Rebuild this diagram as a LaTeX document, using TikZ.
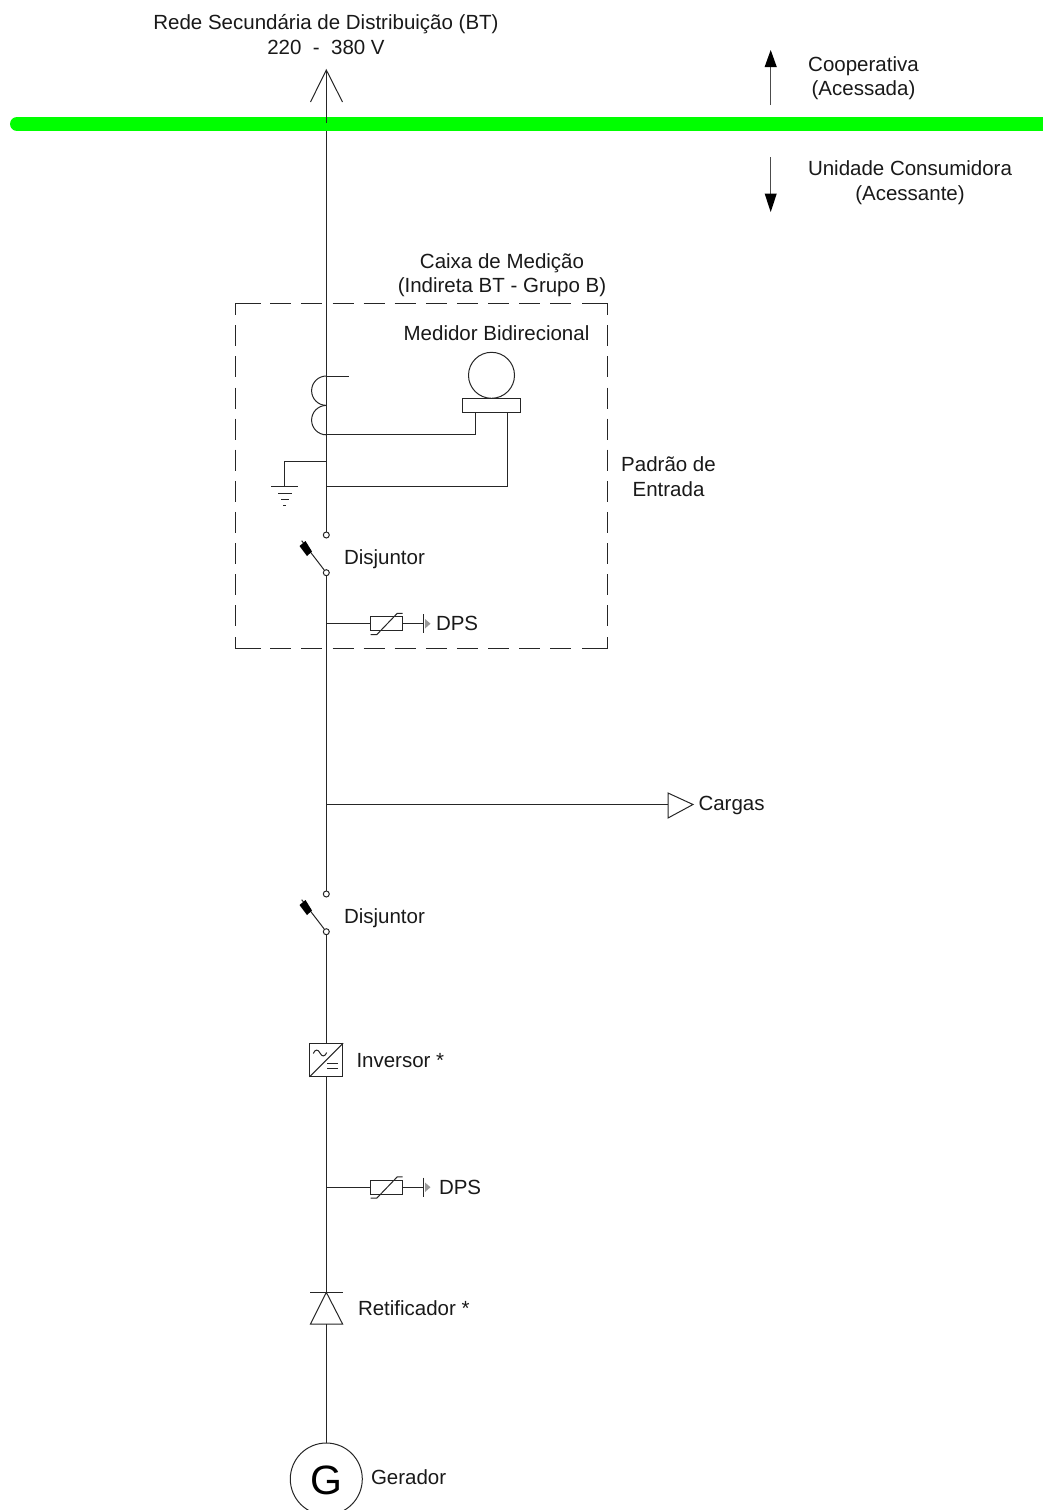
\documentclass[tikz,border=0pt]{standalone}
\usepackage{fontspec}
\setmainfont{Liberation Sans}
\tikzset{
  wire/.style={line width=1pt,draw=black!85},
  dashedge/.style={line width=1pt,draw=black!85,dash pattern=on 21pt off 10.1pt},
  lbl/.style={inner sep=0pt,outer sep=0pt,font=\fontsize{20.5}{24.6}\selectfont,text=black!90,align=center},
  term/.style={circle,draw=black!85,fill=white,line width=1pt,inner sep=0pt,minimum size=6pt},
}
\newcommand{\breakerat}[3]{%
  \begin{scope}[shift={(0,#1)}]
    \node[term] (#2) at (326.3,535) {};
    \node[term] (#3) at (326.3,572.7) {};
    \draw[wire] (#3) -- (301.7,540.7);
    \fill[black] (299.5,546) -- (305.5,541) -- (312,551.5) -- (307,556) -- cycle;
  \end{scope}}
\newcommand{\dpsat}[2]{%
  \begin{scope}[shift={(#1,#2)}]
    \draw[wire] (326.3,623.7) -- (370.7,623.7);
    \draw[wire] (370.7,616.7) rectangle (402.7,630.7);
    \draw[wire] (370.7,634.7) -- (376.7,634.7) -- (397.3,613.3) -- (402.7,613.3);
    \draw[wire] (402.7,623.7) -- (423.3,623.7);
    \fill[black!40] (425,619) -- (430.5,623.7) -- (425,628.5) -- cycle;
    \draw[wire] (423.3,614) -- (423.3,633);
  \end{scope}}
\begin{document}
\begin{tikzpicture}[x=1pt,y=-1pt]
\useasboundingbox (0,0) rectangle (1043,1510);
\coordinate (top) at (326.3,70);
\coordinate (busmid) at (326.3,123);
\coordinate (busL) at (17,124);
\breakerat{0}{ta}{tb}
\breakerat{359}{tc}{td}
\coordinate (barA) at (326.3,1292.3);
\node[circle,draw=black!85,line width=1pt,inner sep=0pt,minimum size=72pt] (gen) at (326.3,1479) {};
\node[font=\fontsize{41}{41}\selectfont,inner sep=0pt] (gl) at (326.3,1480.5) {G};
\draw[wire] (busmid) -- (ta);
\draw[line width=14pt,draw=green,line cap=round] (busL) -- (1060,124);
\draw[wire] (top) -- (busmid);
\draw[wire] (310.5,102) -- (top) -- (342.5,102);
% coil
\draw[wire] (326.3,376) arc[start angle=270,end angle=90,radius=14.7];
\draw[wire] (326.3,405.4) arc[start angle=270,end angle=90,radius=14.7];
\draw[wire] (326.3,376) -- (349,376);
% meter
\node[circle,draw=black!85,line width=1pt,inner sep=0pt,minimum size=46pt] (mc) at (491.5,375.3) {};
\node[draw=black!85,line width=1pt,inner sep=0pt,minimum width=58pt,minimum height=14pt] (mb) at (491.5,405.5) {};
\draw[wire] (326.3,434.8) -- (475.3,434.8) -- (475.3,412.5);
\draw[wire] (326.3,486.5) -- (507.5,486.5) -- (507.5,412.5);
% ground
\draw[wire] (326.3,461.7) -- (284.7,461.7) -- (284.7,486.7);
\draw[wire] (271.3,486.7) -- (298,486.7);
\draw[wire] (278,493) -- (291.7,493);
\draw[wire] (281,499.5) -- (288.5,499.5);
\draw[wire] (283.2,505.5) -- (286.2,505.5);
% enclosure
\draw[wire] (260.7,303.5) -- (235.5,303.5) -- (235.5,315.3);
\draw[wire] (582,303.5) -- (607.5,303.5) -- (607.5,315.3);
\draw[wire] (260.7,648.5) -- (235.5,648.5) -- (235.5,636.7);
\draw[wire] (582,648.5) -- (607.5,648.5) -- (607.5,636.7);
\draw[dashedge] (270.3,303.5) -- (572,303.5);
\draw[dashedge] (270.3,648.5) -- (572,648.5);
\draw[dashedge] (235.5,325.3) -- (235.5,627);
\draw[dashedge] (607.5,325.3) -- (607.5,627);
% main line
\draw[wire] (tb) -- (tc);
\draw[wire] (326.3,804.5) -- (668,804.5);
\draw[wire,fill=white] (668,793) -- (693,804.5) -- (668,818) -- cycle;
\dpsat{0}{0}
\dpsat{0}{563.5}
% inverter
\node[draw=black!85,line width=1pt,inner sep=0pt,minimum size=32.7pt] (inv) at (326.3,1060) {};
\draw[wire] (td) -- (inv.north);
\draw[wire] (inv.south west) -- (inv.north east);
\draw[wire] (313.3,1053.5) .. controls (315,1049) and (318,1049) .. (320,1053) .. controls (322,1057) and (325,1057) .. (326.7,1052.5);
\draw[wire] (327,1063.5) -- (338,1063.5);
\draw[wire] (327,1068.5) -- (338,1068.5);
\draw[wire] (inv.south) -- (barA);
% rectifier
\draw[wire] (310,1292.3) -- (342.6,1292.3);
\draw[wire] (barA) -- (310.5,1324) -- (342.6,1324) -- cycle;
\draw[wire] (326.3,1324) -- (gen.north);
% direction arrows
\coordinate (ua) at (770.7,105);
\coordinate (ub) at (770.7,66);
\coordinate (da) at (770.7,157);
\coordinate (db) at (770.7,194);
\draw[line width=1pt,draw=black!70] (ua) -- (ub);
\draw[line width=1pt,draw=black!70] (da) -- (db);
\fill (770.7,50) -- (776.8,67) -- (764.6,67) -- cycle;
\fill (770.7,212) -- (776.8,193.5) -- (764.6,193.5) -- cycle;
% labels
\node[lbl] (t1) at (326,34.8) {Rede Secundária de Distribuição (BT)\\220\ \ -\ \ 380 V};
\node[lbl] (t2) at (863.5,78) {Cooperativa\\(Acessada)};
\node[lbl] (t3) at (910,182.4) {Unidade Consumidora\\(Acessante)};
\node[lbl] (t4) at (502,275) {Caixa de Medição\\(Indireta BT - Grupo B)};
\node[lbl] (t5) at (496.5,333) {Medidor Bidirecional};
\node[lbl] (t6) at (668.5,476.5) {Padrão de\\Entrada};
\node[lbl,anchor=west] (t7) at (344,559) {Disjuntor};
\node[lbl,anchor=west] (t8) at (436,623) {DPS};
\node[lbl,anchor=west] (t9) at (698.5,805) {Cargas};
\node[lbl,anchor=west] (t10) at (344,918) {Disjuntor};
\node[lbl,anchor=west] (t11) at (356.5,1061) {Inversor *};
\node[lbl,anchor=west] (t12) at (439,1187.5) {DPS};
\node[lbl,anchor=west] (t13) at (358,1308) {Retificador *};
\node[lbl,anchor=west] (t14) at (371,1477) {Gerador};
\end{tikzpicture}
\end{document}
